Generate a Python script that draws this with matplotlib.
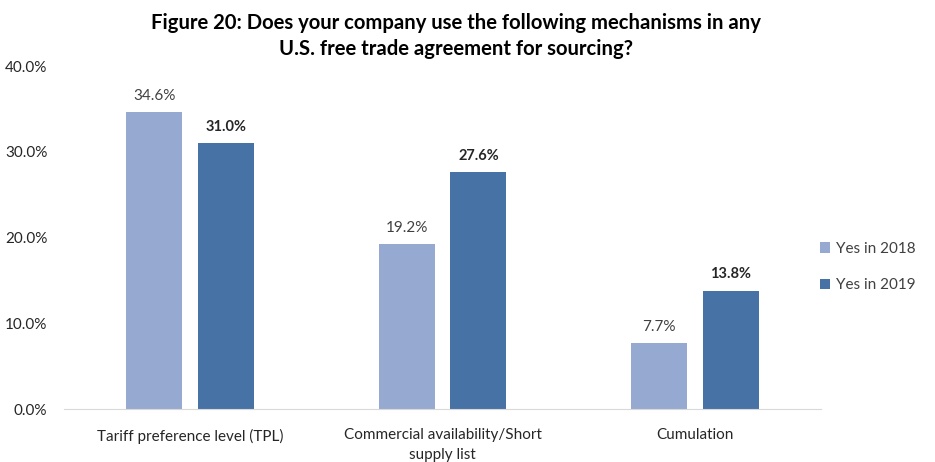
import numpy as np
import matplotlib.pyplot as plt

plt.rcParams['font.family'] = ['Lato', 'DejaVu Sans']

# chart data
categories = ["Tariff preference level (TPL)", "Commercial availability/Short\nsupply list", "Cumulation"]
yes_2018 = [34.6, 19.2, 7.7]
yes_2019 = [31.0, 27.6, 13.8]
series_names = ["Yes in 2018", "Yes in 2019"]
y_ticks = [0, 10, 20, 30, 40]

light_blue = "#95a9d1"
dark_blue = "#4672a6"

fig = plt.figure(figsize=(9.35, 4.62), dpi=100)
ax = fig.add_axes([0.0685, 0.1147, 0.8095, 0.7423])

x = np.arange(len(categories))
width = 0.222
offset = 0.1426

bars_a = ax.bar(x - offset, yes_2018, width, color=light_blue, label=series_names[0])
bars_b = ax.bar(x + offset, yes_2019, width, color=dark_blue, label=series_names[1])

for rect, v in zip(bars_a, yes_2018):
    ax.text(rect.get_x() + rect.get_width() / 2, v + 1.1, f"{v:.1f}%",
            ha="center", va="bottom", fontsize=11, color="#404040")
for rect, v in zip(bars_b, yes_2019):
    ax.text(rect.get_x() + rect.get_width() / 2, v + 1.1, f"{v:.1f}%",
            ha="center", va="bottom", fontsize=10.5, color="#262626", fontweight="bold")

ax.set_xlim(-0.5, len(categories) - 0.5)
ax.set_ylim(0, 40)
ax.set_yticks(y_ticks)
ax.set_yticklabels([f"{t:.1f}%" for t in y_ticks])
ax.set_xticks(x)
ax.set_xticklabels(categories, linespacing=1.5)

for side in ["top", "right", "left"]:
    ax.spines[side].set_visible(False)
ax.spines["bottom"].set_color("#d9d9d9")
ax.tick_params(axis="both", length=0, labelsize=11, colors="#262626")
ax.tick_params(axis="x", pad=14)
ax.tick_params(axis="y", pad=12)

fig.suptitle("Figure 20: Does your company use the following mechanisms in any\nU.S. free trade agreement for sourcing?",
             x=0.488, y=0.972, fontsize=14.6, fontweight="bold", color="black", linespacing=1.35)

ax.legend(loc="center left", bbox_to_anchor=(0.98, 0.414), frameon=False, fontsize=11,
          handlelength=0.7, handleheight=0.7, handletextpad=0.4, labelspacing=1.5,
          labelcolor="#404040")

fig.savefig("out.png", dpi=100)
